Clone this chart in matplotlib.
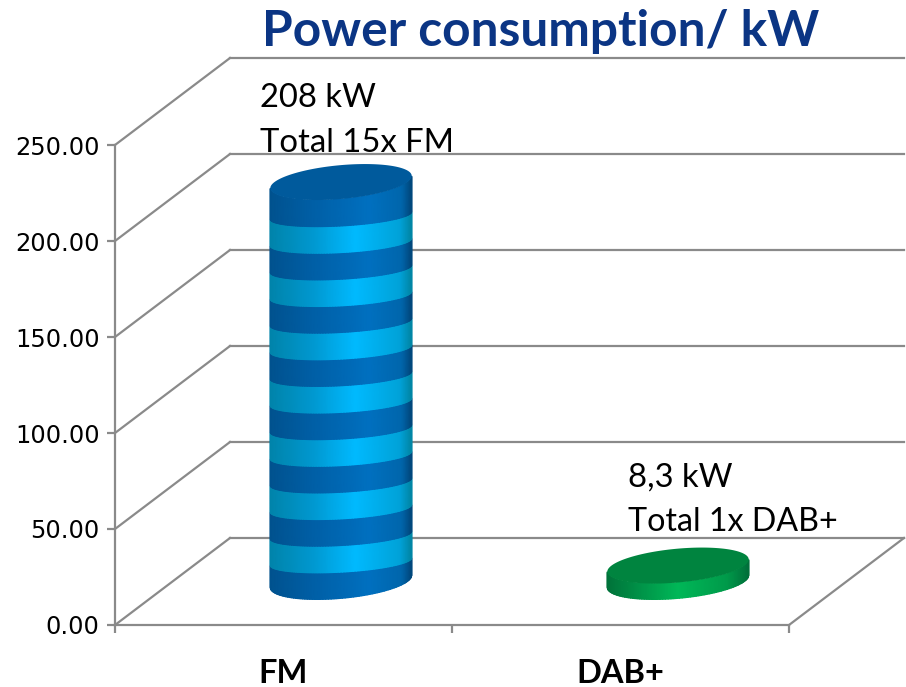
import numpy as np
import matplotlib
matplotlib.use('Agg')
import matplotlib.pyplot as plt
from matplotlib.colors import LinearSegmentedColormap

categories = ['FM', 'DAB+']
fm_units = [13.87, 13.87, 13.87, 13.87, 13.87, 13.87, 13.87, 13.87,
            13.87, 13.87, 13.87, 13.87, 13.87, 13.87, 13.87]
dab_units = [8.3]
y_ticks = [0, 50, 100, 150, 200, 250]
x_edges = [0, 1, 2]

GRAY = '#8a8a8a'

# depth of the fake 3d box, in data units
DEPTH_X = 115 / 337.
DEPTH_Y = 87 / 1.92
# cylinder radii
RAD_X = 66.5 / 337.
RAD_DX = 24 / 337.
RAD_DY = 18 / 1.92
# inner band edges bend less than the outer rim
BAND_BEND = 0.62

dark = LinearSegmentedColormap.from_list('dark', [(0, '#00528f'), (0.3, '#005fa6'), (0.7, '#0070c0'), (0.93, '#0066ac'), (1, '#00487d')])
light = LinearSegmentedColormap.from_list('light', [(0, '#0084ab'), (0.3, '#0098d0'), (0.6, '#00baff'), (0.92, '#00a2d8'), (1, '#0086a6')])
green = LinearSegmentedColormap.from_list('green', [(0, '#00733a'), (0.5, '#00b858'), (0.85, '#009a4a'), (1, '#00703a')])


def rim(cx, cy, t):
    x = cx + RAD_X * np.cos(t) + RAD_DX * np.sin(t)
    y = cy + RAD_DY * np.sin(t)
    return x, y


def band_edge(cy, t):
    return cy - RAD_DY + RAD_DY * BAND_BEND * (np.sin(t) + 1)


def cylinder(ax, center, units, cmaps, top_color):
    t0 = np.arctan2(RAD_DX, RAD_X)
    t = np.linspace(t0 - np.pi, t0, 80)
    base = DEPTH_Y / 2
    level = 0.
    for i, u in enumerate(units):
        x0, y0 = rim(center + DEPTH_X / 2, base + level, t)
        y1 = rim(center + DEPTH_X / 2, base + level + u, t)[1]
        if i > 0:
            y0 = band_edge(base + level, t)
        if i < len(units) - 1:
            y1 = band_edge(base + level + u, t)
        X = np.vstack([x0, x0])
        Y = np.vstack([y0, y1])
        c = (x0 - x0.min()) / (x0.max() - x0.min())
        C = np.vstack([c, c])
        ax.pcolormesh(X, Y, C, cmap=cmaps[i % len(cmaps)], shading='gouraud', vmin=0, vmax=1, zorder=3)
        level += u
    tt = np.linspace(0, 2 * np.pi, 200)
    x, y = rim(center + DEPTH_X / 2, base + level, tt)
    ax.fill(x, y, color=top_color, lw=0, zorder=4)


def main():
    fig = plt.figure(figsize=(9.06, 6.87), dpi=100)
    ax = fig.add_axes([0, 0, 1, 1])
    ax.set_xlim(-115 / 337., (906 - 115) / 337.)
    ax.set_ylim(-62 / 1.92, 625 / 1.92)
    ax.patch.set_alpha(0)

    # walls
    for v in y_ticks:
        ax.plot([0, DEPTH_X], [v, v + DEPTH_Y], color=GRAY, lw=1.6, zorder=1)
        ax.plot([DEPTH_X, 2 + DEPTH_X], [v + DEPTH_Y, v + DEPTH_Y], color=GRAY, lw=1.6, zorder=1)
    ax.plot([2, 2 + DEPTH_X], [0, DEPTH_Y], color=GRAY, lw=1.6, zorder=1)

    for s in ['top', 'right']:
        ax.spines[s].set_visible(False)
    for s in ['left', 'bottom']:
        ax.spines[s].set_position(('data', 0))
        ax.spines[s].set_color(GRAY)
        ax.spines[s].set_linewidth(1.6)
    ax.spines['left'].set_bounds(0, 250)
    ax.spines['bottom'].set_bounds(0, 2)

    ax.set_yticks(y_ticks)
    ax.set_yticklabels(['%.2f' % v for v in y_ticks])
    ax.set_xticks(x_edges)
    ax.set_xticklabels([])
    ax.set_xticks([0.5, 1.5], minor=True)
    ax.set_xticklabels(categories, minor=True, fontsize=23.5, fontweight='bold', family='Lato')
    ax.tick_params(axis='y', length=6, width=1.6, color=GRAY, labelsize=17.4, pad=5)
    ax.tick_params(axis='x', which='major', length=6, width=1.6, color=GRAY)
    ax.tick_params(axis='x', which='minor', length=0, pad=24.5)

    cylinder(ax, 0.5, fm_units, [dark, light], '#005a9c')
    cylinder(ax, 1.5, dab_units, [green], '#00843f')

    fig.text(541 / 906., 1 - 31 / 687., 'Power consumption/ kW', ha='center', va='center',
             fontsize=35.7, fontweight='bold', color='#0b3584', family='Lato')
    fig.text(260 / 906., 1 - 98 / 687., '208 kW', va='center', fontsize=23.6, family='Lato')
    fig.text(260 / 906., 1 - 143 / 687., 'Total 15x FM', va='center', fontsize=23.6, family='Lato')
    fig.text(628 / 906., 1 - 478 / 687., '8,3 kW', va='center', fontsize=23.6, family='Lato')
    fig.text(628 / 906., 1 - 522 / 687., 'Total 1x DAB+', va='center', fontsize=23.2, family='Lato')

    fig.savefig('out.png', dpi=100)


if __name__ == '__main__':
    main()
